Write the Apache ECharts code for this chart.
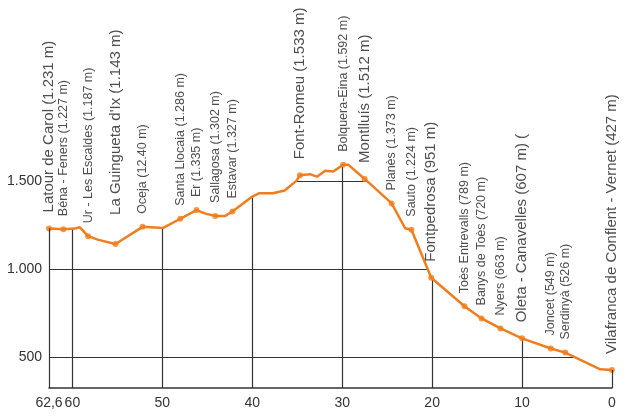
<!DOCTYPE html>
<html>
<head>
<meta charset="utf-8">
<script src="https://cdn.jsdelivr.net/npm/echarts@6/dist/echarts.min.js"></script>
<style>
  html, body { margin: 0; background: #fff; }
  #main { width: 630px; height: 420px; }
</style>
</head>
<body>
<div id="main"></div>
<script>
// stations: km from Vilafranca, elevation (m), label as printed
const stationKm = [62.6, 61.0, 58.25, 55.2, 52.2, 48.0, 46.2, 44.1, 42.2, 34.7, 29.9, 27.5, 24.5, 22.3, 20.1, 16.4, 14.5, 12.4, 10.0, 6.8, 5.2, 0];
const stationElev = [1231, 1227, 1187, 1143, 1240, 1286, 1335, 1302, 1327, 1533, 1592, 1512, 1373, 1224, 951, 789, 720, 663, 607, 549, 526, 427];
const stationLabels = [
  'Latour de Carol (1.231 m)',
  'Béna - Feners (1.227 m)',
  'Ur - Les Escaldes (1.187 m)',
  "La Guingueta d'Ix (1.143 m)",
  'Oceja (12.40 m)',
  'Santa Llocaia (1.286 m)',
  'Er (1.335 m)',
  'Sallagosa (1.302 m)',
  'Estavar (1.327 m)',
  'Font-Romeu (1.533 m)',
  'Bolquera-Eina (1.592 m)',
  'Montlluís (1.512 m)',
  'Planès (1.373 m)',
  'Sauto (1.224 m)',
  'Fontpedrosa (951 m)',
  'Toès Entrevalls (789 m)',
  'Banys de Toès (720 m)',
  'Nyers (663 m)',
  'Oleta - Canavelles (607 m) (',
  'Joncet (549 m)',
  'Serdinyà (526 m)',
  'Vilafranca de Conflent - Vernet (427 m)'
];
// bends of the track between stations
const bendKm = [59.7, 59.2, 57.1, 49.9, 45.2, 43.0, 40.0, 39.2, 37.7, 36.4, 35.1, 33.6, 32.8, 31.9, 31.0, 29.3, 23.0, 1.3];
const bendElev = [1230, 1238, 1166, 1234, 1315, 1302, 1412, 1431, 1431, 1446, 1501, 1539, 1525, 1559, 1554, 1592, 1232, 431];

const xTicks = [0, 10, 20, 30, 40, 50, 60, 62.6];
const yTicks = [500, 1000, 1500];
const Y_MIN = 325, Y_MAX = 2000;

// big-label stations
const major = ['Latour de Carol (1.231 m)', "La Guingueta d'Ix (1.143 m)", 'Font-Romeu (1.533 m)',
  'Montlluís (1.512 m)', 'Fontpedrosa (951 m)', 'Oleta - Canavelles (607 m) (',
  'Vilafranca de Conflent - Vernet (427 m)'];
const gapOverride = { "La Guingueta d'Ix (1.143 m)": 26 };

const ORANGE = '#F07D1E';
const GRID = '#333';
const FONT = '"Liberation Sans", Arial, sans-serif';

const profile = [];
stationKm.forEach((k, i) => profile.push([k, stationElev[i]]));
bendKm.forEach((k, i) => profile.push([k, bendElev[i]]));
profile.sort((a, b) => a[0] - b[0]);

const stations = stationKm.map((k, i) => {
  const big = major.includes(stationLabels[i]);
  return {
    name: stationLabels[i],
    value: [k, stationElev[i]],
    label: {
      fontSize: big ? 15 : 12.5,
      distance: gapOverride[stationLabels[i]] || (big ? 13 : 10)
    }
  };
});

// end verticals: from axis up to the first and last profile point
const first = profile[0], last = profile[profile.length - 1];
const edgeLines = [first, last].map(p => [{ coord: [p[0], Y_MIN] }, { coord: p }]);

const thousands = v => String(v).replace(/\B(?=(\d{3})+(?!\d))/g, '.');

const myChart = echarts.init(document.getElementById('main'));
myChart.setOption({
  animation: false,
  textStyle: { fontFamily: FONT },
  grid: { left: 49, right: 18, top: 93, bottom: 32 },
  xAxis: {
    type: 'value',
    inverse: true,
    min: 0,
    max: 62.6,
    axisLine: { lineStyle: { color: GRID, width: 1.5 } },
    axisTick: { show: false, customValues: xTicks },
    axisLabel: {
      customValues: xTicks,
      showMinLabel: true,
      showMaxLabel: true,
      color: '#333',
      fontSize: 14,
      margin: 8,
      fontFamily: FONT,
      formatter: v => String(v).replace('.', ',')
    },
    splitLine: { show: true, showMinLine: false, showMaxLine: false, lineStyle: { color: GRID, width: 1.2 } }
  },
  yAxis: {
    type: 'value',
    min: Y_MIN,
    max: Y_MAX,
    axisLine: { show: false },
    axisTick: { show: false, customValues: yTicks },
    axisLabel: {
      customValues: yTicks,
      color: '#333',
      fontSize: 14,
      margin: 7,
      fontFamily: FONT,
      formatter: thousands
    },
    splitLine: { show: true, lineStyle: { color: GRID, width: 1.2 } }
  },
  series: [
    {
      type: 'line',
      data: profile,
      showSymbol: false,
      silent: true,
      z: 2,
      lineStyle: { color: ORANGE, width: 2.5 },
      // white above the profile hides the grid there
      areaStyle: { color: '#fff', opacity: 1, origin: 'end' },
      markLine: {
        silent: true,
        symbol: 'none',
        label: { show: false },
        lineStyle: { color: GRID, width: 1.2, type: 'solid' },
        data: edgeLines
      }
    },
    {
      type: 'scatter',
      data: stations,
      z: 3,
      symbolSize: 6,
      itemStyle: { color: ORANGE },
      label: {
        show: true,
        formatter: p => p.name,
        position: 'top',
        rotate: 90,
        align: 'left',
        verticalAlign: 'middle',
        color: '#222',
        fontFamily: FONT
      }
    }
  ]
});
</script>
</body>
</html>
